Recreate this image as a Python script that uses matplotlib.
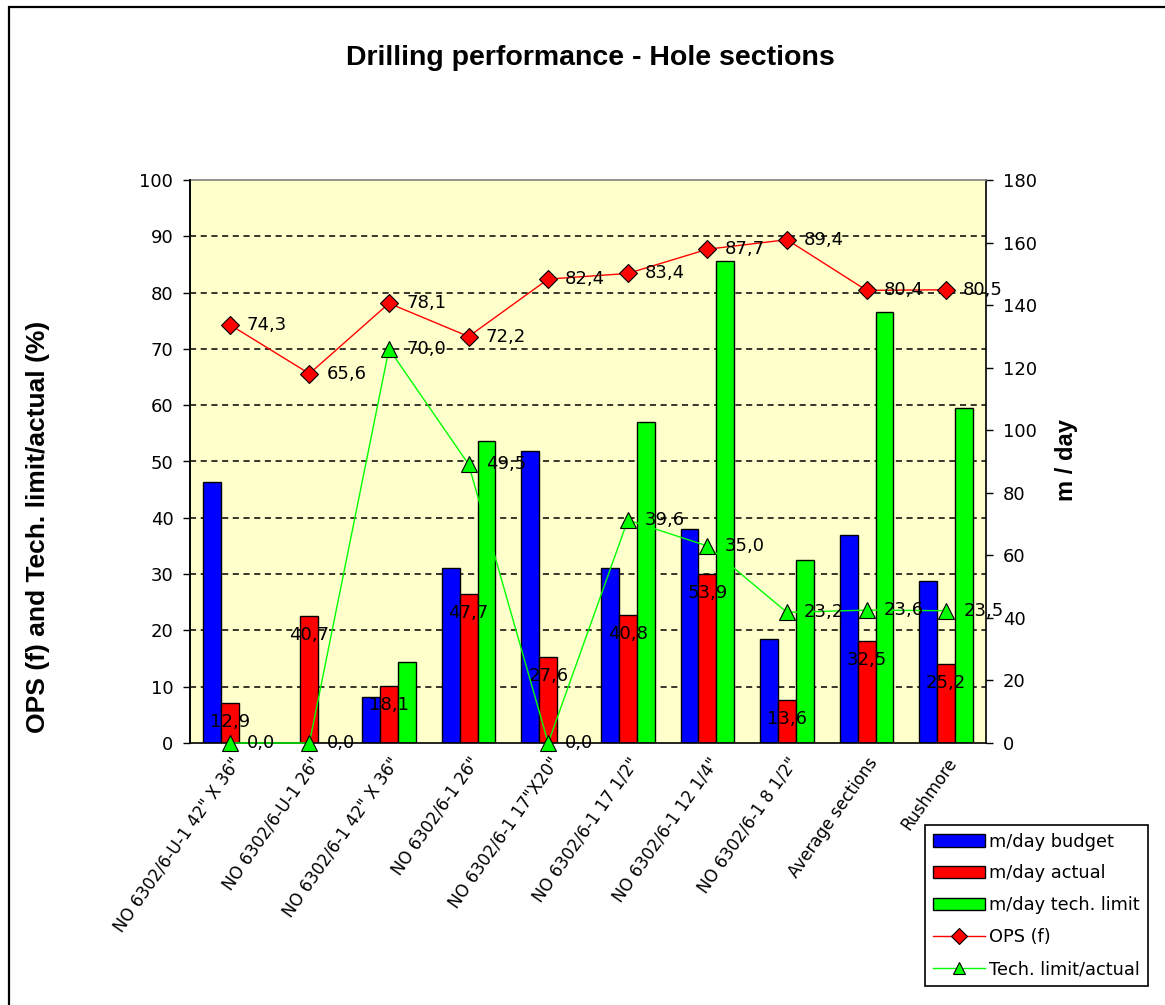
import matplotlib
matplotlib.use("Agg")
import matplotlib.pyplot as plt
from matplotlib.patches import Rectangle, Patch
from matplotlib.lines import Line2D
import numpy as np

# Hole sections
categories = [
    'NO 6302/6-U-1 42" X 36"',
    'NO 6302/6-U-1 26"',
    'NO 6302/6-1 42" X 36"',
    'NO 6302/6-1 26"',
    'NO 6302/6-1 17"X20"',
    'NO 6302/6-1 17 1/2"',
    'NO 6302/6-1 12 1/4"',
    'NO 6302/6-1 8 1/2"',
    'Average sections',
    'Rushmore',
]

# m/day series (right axis)
mday_budget = [83.5, 0.0, 14.6, 56.0, 93.3, 56.0, 68.3, 33.2, 66.6, 51.8]
mday_actual = [12.9, 40.7, 18.1, 47.7, 27.6, 40.8, 53.9, 13.6, 32.5, 25.2]
mday_tech_limit = [0.0, 0.0, 25.9, 96.4, 0.0, 102.5, 154.0, 58.6, 137.7, 107.2]

# Percent series (left axis)
ops_f = [74.3, 65.6, 78.1, 72.2, 82.4, 83.4, 87.7, 89.4, 80.4, 80.5]
tech_vs_actual = [0.0, 0.0, 70.0, 49.5, 0.0, 39.6, 35.0, 23.2, 23.6, 23.5]

left_ticks = list(range(0, 101, 10))
right_ticks = list(range(0, 181, 20))

W, H, DPI = 1165, 1005, 100
fig = plt.figure(figsize=(W / DPI, H / DPI), dpi=DPI)
fig.patch.set_facecolor("white")

TXT = ["DejaVu Sans"]
BOLD = ["Liberation Sans", "DejaVu Sans"]

def px_box(l, t, r, b):
    return [l / W, 1 - b / H, (r - l) / W, (b - t) / H]

# bars live on the lower axes (right scale), lines on the upper one (left scale)
ax2 = fig.add_axes(px_box(190, 180, 986, 743))
ax = fig.add_axes(px_box(190, 180, 986, 743), sharex=ax2)
ax.set_zorder(ax2.get_zorder() + 1)
ax.patch.set_visible(False)
ax2.set_facecolor("#FFFFCC")

x = np.arange(len(categories))
bw = 0.225

ax2.set_ylim(0, 180)
ax.set_ylim(0, 100)
ax2.set_xlim(-0.5, len(categories) - 0.5)

# dashed grid at the left-axis steps, behind the bars
for t in left_ticks[1:-1]:
    ax2.axhline(t * 180 / 100, color="black", lw=1.1, ls=(0, (4, 3)), zorder=0.5)

ax2.bar(x - bw, mday_budget, bw, color="#0000FF", edgecolor="black", lw=1, zorder=2)
ax2.bar(x, mday_actual, bw, color="#FF0000", edgecolor="black", lw=1, zorder=2)
ax2.bar(x + bw, mday_tech_limit, bw, color="#00FF00", edgecolor="black", lw=1, zorder=2)

def fmt(v):
    return f"{v:.1f}".replace(".", ",")

for xi, v in zip(x, mday_actual):
    ax2.annotate(fmt(v), (xi, v), xytext=(0, -19), textcoords="offset pixels",
                 ha="center", va="center", fontsize=13, family=TXT, zorder=3)

ax.plot(x, ops_f, color="#FF0000", lw=1, marker="D", ms=9.5,
        mfc="#FF0000", mec="black", mew=0.8, zorder=3)
ax.plot(x, tech_vs_actual, color="#00FF00", lw=1, marker="^", ms=11,
        mfc="#00FF00", mec="black", mew=0.8, zorder=3, clip_on=False)

for xi, v in zip(x, ops_f):
    ax.annotate(fmt(v), (xi, v), xytext=(17, 0), textcoords="offset pixels",
                ha="left", va="center", fontsize=13, family=TXT, zorder=4,
                annotation_clip=False)
for xi, v in zip(x, tech_vs_actual):
    ax.annotate(fmt(v), (xi, v), xytext=(17, 0), textcoords="offset pixels",
                ha="left", va="center", fontsize=13, family=TXT, zorder=4,
                annotation_clip=False)

# axes styling
ax.set_yticks(left_ticks)
ax2.set_yticks(right_ticks)
ax.tick_params(axis="y", direction="out", length=5, width=1, pad=7, labelsize=13)
ax2.tick_params(axis="y", direction="out", length=5, width=1, pad=7, labelsize=13,
                left=False, labelleft=False, right=True, labelright=True)
ax.tick_params(axis="y", right=False, labelright=False)
for lab in ax.get_yticklabels() + ax2.get_yticklabels():
    lab.set_family(TXT)

ax2.set_xticks(x)
ax2.set_xticklabels(categories, rotation=55, ha="right", va="top",
                    rotation_mode="anchor", fontsize=12, family=TXT)
ax2.tick_params(axis="x", length=0, pad=8)
ax.tick_params(axis="x", length=0, labelbottom=False)

for s in ax.spines.values():
    s.set_visible(False)
ax2.spines["left"].set_color("black")
ax2.spines["right"].set_color("black")
ax2.spines["bottom"].set_color("black")
ax2.spines["top"].set_color("#808080")
for s in ax2.spines.values():
    s.set_linewidth(1.2)

ax.spines["left"].set_visible(True)
ax.spines["left"].set_color("black")
ax.spines["left"].set_linewidth(1.2)

fig.text(590 / W, 1 - 58 / H, "Drilling performance - Hole sections",
         ha="center", va="center", fontsize=20.5, fontweight="bold", family=BOLD)
fig.text(38 / W, 1 - 527 / H, "OPS (f) and Tech. limit/actual (%)",
         ha="center", va="center", rotation=90, fontsize=19, fontweight="bold",
         family=BOLD)
fig.text(1066 / W, 1 - 460 / H, "m / day", ha="center", va="center",
         rotation=90, fontsize=17, fontweight="bold", family=BOLD)

handles = [
    Patch(facecolor="#0000FF", edgecolor="black", lw=1),
    Patch(facecolor="#FF0000", edgecolor="black", lw=1),
    Patch(facecolor="#00FF00", edgecolor="black", lw=1),
    Line2D([], [], color="#FF0000", lw=1, marker="D", ms=8, mfc="#FF0000", mec="black", mew=0.8),
    Line2D([], [], color="#00FF00", lw=1, marker="^", ms=9, mfc="#00FF00", mec="black", mew=0.8),
]
labels = ["m/day budget", "m/day actual", "m/day tech. limit", "OPS (f)", "Tech. limit/actual"]
leg = fig.legend(handles, labels, loc="lower left",
                 bbox_to_anchor=(925 / W, 1 - 986 / H), bbox_transform=fig.transFigure,
                 prop={"family": TXT, "size": 12.8}, frameon=True, fancybox=False,
                 edgecolor="black", framealpha=1, borderpad=0.45, labelspacing=0.78,
                 handlelength=2.9, handleheight=0.7, handletextpad=0.25,
                 numpoints=1, borderaxespad=0)
leg.get_frame().set_linewidth(1.2)

# outer chart border
fig.patches.append(Rectangle((9 / W, -0.1), 1.2, 1.1 - 7 / H, transform=fig.transFigure,
                             fill=False, edgecolor="black", lw=1.6, figure=fig))

fig.savefig("out.png", dpi=DPI)
